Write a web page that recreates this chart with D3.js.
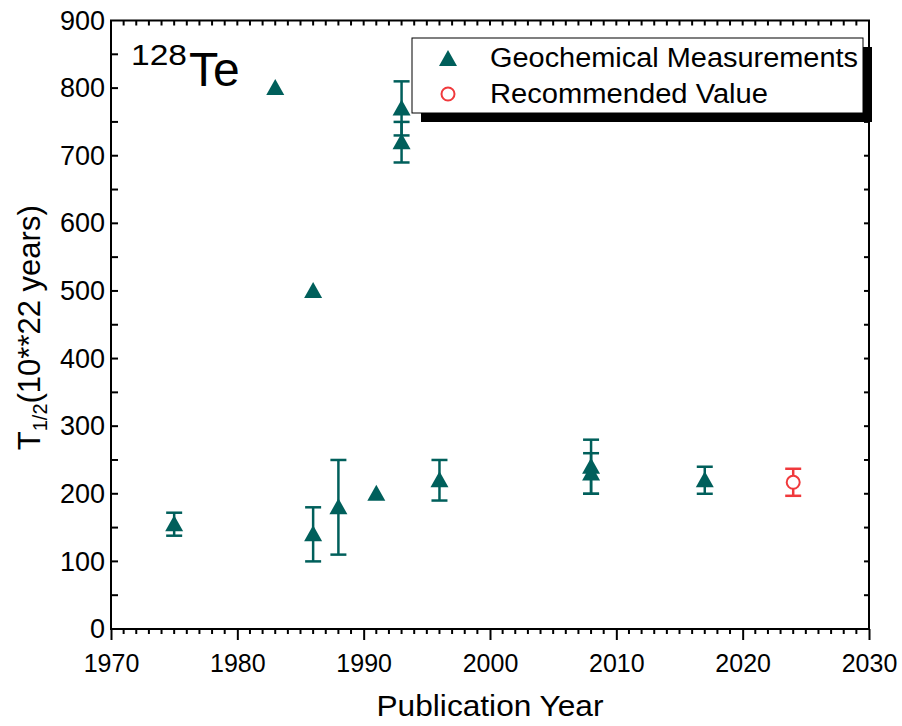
<!DOCTYPE html>
<html><head><meta charset="utf-8">
<script src="https://cdn.jsdelivr.net/npm/d3@7"></script>
<style>body{margin:0;background:#fff}svg{display:block}</style>
</head><body>
<script>
// Data
const geoYears  = [1975, 1983, 1986, 1986, 1988, 1991, 1993, 1993, 1996, 2008, 2008, 2017];
const geoValues = [155,  800,  500,  140,  180,  200,  770,  720,  220,  240,  230,  220];
const geoErrors = [17,   0,    0,    40,   70,   0,    40,   30,   30,   40,   30,   20];
const recYears  = [2024];
const recValues = [217];
const recErrors = [20];
const xTicks = [1970, 1980, 1990, 2000, 2010, 2020, 2030];
const yTicks = [0, 100, 200, 300, 400, 500, 600, 700, 800, 900];
const legendLabels = ["Geochemical Measurements", "Recommended Value"];

(function () {
const W = 902, H = 726;
const FONT = "'Liberation Sans', Arial, sans-serif";
const TEAL = "#005F5B", RED = "#F0393C";
const pL = 111, pR = 869, pT = 20.5, pB = 629;

const svg = d3.select("body").append("svg").attr("width", W).attr("height", H)
  .style("font-family", FONT);

const x = d3.scaleLinear().domain([1970, 2030]).range([pL, pR]);
const y = d3.scaleLinear().domain([0, 900]).range([pB, pT]);

// frame
svg.append("rect").attr("x", pL).attr("y", pT).attr("width", pR - pL).attr("height", pB - pT)
  .attr("fill", "none").attr("stroke", "#000").attr("stroke-width", 2);

const yearsAll = d3.range(1970, 2031);
const minorX = yearsAll.filter(v => v % 10 !== 0);
const halfY = d3.range(50, 900, 100);

// bottom axis: labels + outward major ticks
const xAxis = d3.axisBottom(x).tickValues(xTicks).tickFormat(d3.format("d")).tickSize(11);
const gx = svg.append("g").attr("transform", `translate(0,${pB})`).call(xAxis);
gx.select(".domain").remove();
gx.selectAll("line").attr("stroke-width", 2);
gx.selectAll("text").attr("font-size", 25).attr("font-family", FONT).attr("fill", "#000")
  .attr("y", 43).attr("dy", 0);
// bottom minor ticks (outward)
svg.append("g").selectAll("line").data(minorX).join("line")
  .attr("x1", d => x(d)).attr("x2", d => x(d)).attr("y1", pB).attr("y2", pB + 5)
  .attr("stroke", "#000").attr("stroke-width", 2);
// top ticks (inward)
svg.append("g").selectAll("line").data(yearsAll.slice(1, -1)).join("line")
  .attr("x1", d => x(d)).attr("x2", d => x(d)).attr("y1", pT).attr("y2", pT + 5)
  .attr("stroke", "#000").attr("stroke-width", 2);

// left axis labels
const yAxis = d3.axisLeft(y).tickValues(yTicks).tickSize(0).tickPadding(6);
const gy = svg.append("g").attr("transform", `translate(${pL},0)`).call(yAxis);
gy.select(".domain").remove();
gy.selectAll("text").attr("font-size", 27).attr("font-family", FONT).attr("fill", "#000");
const yTickVals = yTicks.slice(1, -1).concat(halfY);
svg.append("g").selectAll("line").data(yTickVals).join("line")
  .attr("x1", pL).attr("x2", pL + 7).attr("y1", d => y(d)).attr("y2", d => y(d))
  .attr("stroke", "#000").attr("stroke-width", 2);
svg.append("g").selectAll("line").data(yTickVals).join("line")
  .attr("x1", pR).attr("x2", pR - 5).attr("y1", d => y(d)).attr("y2", d => y(d))
  .attr("stroke", "#000").attr("stroke-width", 2);

// axis titles
svg.append("text").attr("x", (pL + pR) / 2).attr("y", 716).attr("text-anchor", "middle")
  .attr("font-size", 30).attr("textLength", 227).attr("lengthAdjust", "spacingAndGlyphs")
  .text("Publication Year");
const yt = svg.append("text").attr("transform", `translate(40,${(pT + pB) / 2 + 3}) rotate(-90)`)
  .attr("text-anchor", "middle").attr("font-size", 31);
yt.append("tspan").text("T");
yt.append("tspan").attr("font-size", 20).attr("dy", 7).text("1/2");
yt.append("tspan").attr("dy", -7).text("(10**22 years)");

// 128Te label
svg.append("text").attr("x", 131).attr("y", 65).attr("font-size", 30)
  .attr("textLength", 56).attr("lengthAdjust", "spacingAndGlyphs").text("128");
svg.append("text").attr("x", 189).attr("y", 86).attr("font-size", 48).text("Te");

// data
const geo = geoYears.map((d, i) => ({ x: d, v: geoValues[i], e: geoErrors[i] }));
const rec = recYears.map((d, i) => ({ x: d, v: recValues[i], e: recErrors[i] }));

function errBars(data, color) {
  const g = svg.append("g").attr("stroke", color).attr("stroke-width", 2.5);
  data.filter(d => d.e > 0).forEach(d => {
    const cx = x(d.x);
    g.append("line").attr("x1", cx).attr("x2", cx).attr("y1", y(d.v + d.e)).attr("y2", y(d.v - d.e));
    [d.v + d.e, d.v - d.e].forEach(v => g.append("line").attr("x1", cx - 8).attr("x2", cx + 8).attr("y1", y(v)).attr("y2", y(v)));
  });
}
errBars(geo, TEAL);
errBars(rec, RED);

const tri = "M0,-10L9,6L-9,6Z";
svg.append("g").selectAll("path").data(geo).join("path")
  .attr("d", tri).attr("transform", d => `translate(${x(d.x)},${y(d.v) + 1})`).attr("fill", TEAL);
svg.append("g").selectAll("circle").data(rec).join("circle")
  .attr("cx", d => x(d.x)).attr("cy", d => y(d.v)).attr("r", 6.5)
  .attr("fill", "#fff").attr("stroke", RED).attr("stroke-width", 2);

// legend
const lg = svg.append("g");
lg.append("rect").attr("x", 421).attr("y", 47).attr("width", 451).attr("height", 75).attr("fill", "#000");
lg.append("rect").attr("x", 412).attr("y", 38).attr("width", 451).attr("height", 75)
  .attr("fill", "#fff").attr("stroke", "#000").attr("stroke-width", 1);
lg.append("path").attr("d", tri).attr("transform", "translate(448,60)").attr("fill", TEAL);
lg.append("circle").attr("cx", 448).attr("cy", 94).attr("r", 6.5).attr("fill", "#fff").attr("stroke", RED).attr("stroke-width", 2);
const legendWidths = [368, 278];
lg.selectAll("text.l").data(legendLabels).join("text").attr("class", "l")
  .attr("x", 490).attr("y", (d, i) => 67 + i * 36).attr("font-size", 27)
  .attr("textLength", (d, i) => legendWidths[i]).attr("lengthAdjust", "spacingAndGlyphs")
  .text(d => d);
})();
</script>
</body></html>
